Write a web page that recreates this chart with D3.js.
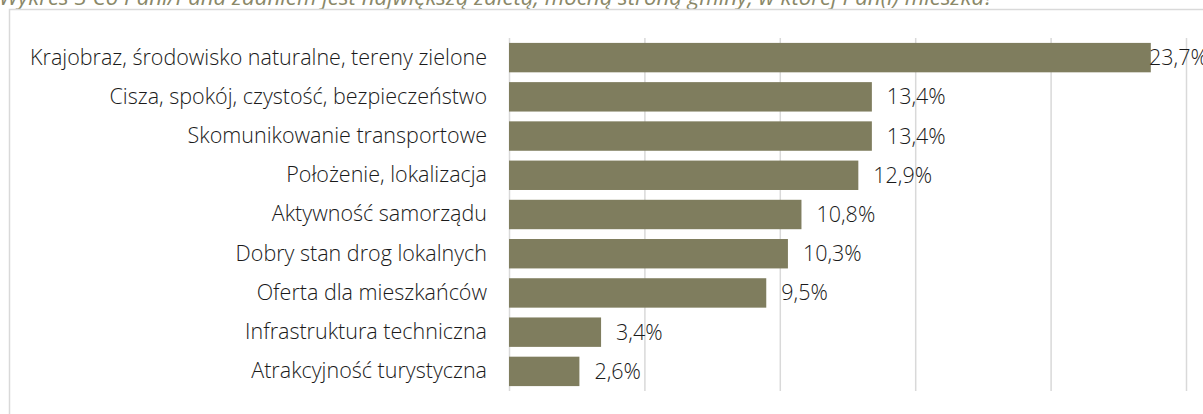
<!DOCTYPE html>
<html>
<head>
<meta charset="utf-8">
<script src="https://cdn.jsdelivr.net/npm/d3@7"></script>
<style>
  html, body { margin: 0; padding: 0; background: #fff; }
  svg { display: block; }
  text { font-family: "Open Sans", "Noto Sans", sans-serif; }
</style>
</head>
<body>
<script>
// Survey answers: strongest assets of the municipality (% of responses)
const categories = [
  "Krajobraz, środowisko naturalne, tereny zielone",
  "Cisza, spokój, czystość, bezpieczeństwo",
  "Skomunikowanie transportowe",
  "Położenie, lokalizacja",
  "Aktywność samorządu",
  "Dobry stan drog lokalnych",
  "Oferta dla mieszkańców",
  "Infrastruktura techniczna",
  "Atrakcyjność turystyczna"
];
const values = [23.7, 13.4, 13.4, 12.9, 10.8, 10.3, 9.5, 3.4, 2.6];
const tickValues = [0, 5, 10, 15, 20, 25];
const title = "Wykres 3 Co Pani/Pana zdaniem jest największą zaletą, mocną stroną gminy, w której Pan(i) mieszka?";

const W = 1203, H = 414;
const barColor = "#7f7d5e";
const gridColor = "#d9d9d9";
const fontSize = 21.5;

const svg = d3.select("body").append("svg")
  .attr("width", W).attr("height", H);

svg.append("rect").attr("width", W).attr("height", H).attr("fill", "#fff");

// Caption above the chart frame
svg.append("text")
  .attr("x", -1).attr("y", 5)
  .attr("font-size", 22.3)
  .attr("font-style", "italic")
  .attr("fill", "#8a8868")
  .text(title);

// Chart frame
svg.append("rect")
  .attr("x", 9.5).attr("y", 9.5)
  .attr("width", W).attr("height", H)
  .attr("fill", "#fff")
  .attr("stroke", gridColor)
  .attr("stroke-width", 1.5);

const x = d3.scaleLinear().domain([0, 25]).range([509, 1186]);
const y = d3.scaleBand().domain(categories).range([38, 391])
  .paddingInner(0.25).paddingOuter(0.125);

// Vertical gridlines
const grid = d3.axisBottom(x).tickValues(tickValues)
  .tickSize(-(y.range()[1] - y.range()[0])).tickFormat("");
svg.append("g")
  .attr("transform", `translate(0,${y.range()[1]})`)
  .call(grid)
  .call(g => g.select(".domain").remove())
  .call(g => g.selectAll("line").attr("stroke", gridColor).attr("stroke-width", 1.5));

// Bars
svg.append("g").selectAll("rect")
  .data(values)
  .join("rect")
  .attr("x", x(0))
  .attr("y", (d, i) => y(categories[i]))
  .attr("width", d => x(d) - x(0))
  .attr("height", y.bandwidth())
  .attr("fill", barColor);

// Category labels
const yAxis = d3.axisLeft(y).tickSize(0).tickPadding(22);
svg.append("g")
  .attr("transform", `translate(${x(0)},0)`)
  .call(yAxis)
  .call(g => g.select(".domain").remove())
  .call(g => g.selectAll("text")
    .attr("font-family", "'Open Sans', sans-serif")
    .attr("font-weight", 300)
    .attr("font-size", fontSize)
    .attr("fill", "#1a1a1a"));

// Value labels
const fmt = v => v.toFixed(1).replace(".", ",") + "%";
svg.append("g").selectAll("text")
  .data(values)
  .join("text")
  .attr("x", d => Math.min(x(d) + 15, x.range()[1] - 37))
  .attr("y", (d, i) => y(categories[i]) + y.bandwidth() / 2)
  .attr("dy", "0.35em")
  .attr("font-weight", 300)
  .attr("font-size", fontSize)
  .attr("fill", "#1a1a1a")
  .text(fmt);
</script>
</body>
</html>
